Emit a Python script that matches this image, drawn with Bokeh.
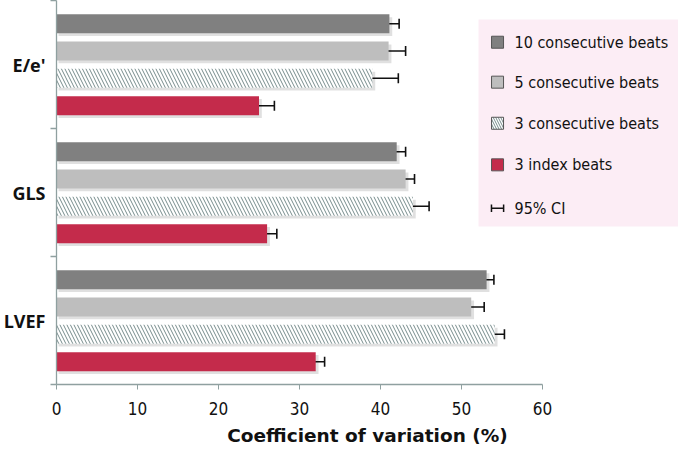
from bokeh.plotting import figure
from bokeh.models import Range1d, FixedTicker, ColumnDataSource, Whisker
from bokeh.core.properties import value
from bokeh.embed import file_html
from bokeh.resources import INLINE

# ---- data ----
categories = ["LVEF", "GLS", "E/e'"]
series = ["10 consecutive beats", "5 consecutive beats", "3 consecutive beats", "3 index beats"]
cv_10 = [53.1, 42.0, 41.1]
cv_5 = [51.2, 43.1, 41.0]
cv_3 = [54.1, 44.0, 39.0]
cv_idx = [32.0, 26.0, 25.0]
lo_10 = [52.5, 41.2, 40.1]
hi_10 = [54.0, 43.1, 42.3]
lo_5 = [50.0, 42.0, 40.1]
hi_5 = [52.8, 44.2, 43.1]
lo_3 = [51.0, 42.0, 37.0]
hi_3 = [55.3, 46.0, 42.2]
lo_idx = [30.9, 25.0, 24.0]
hi_idx = [33.1, 27.2, 26.9]
x_ticks = [0, 10, 20, 30, 40, 50, 60]
x_title = "Coefficient of variation (%)"

FONT = "DejaVu Sans Condensed"
vals = [cv_10, cv_5, cv_3, cv_idx]
los = [lo_10, lo_5, lo_3, lo_idx]
his = [hi_10, hi_5, hi_3, hi_idx]
offsets = [0.318, 0.105, -0.108, -0.322]
fills = ["#808080", "#bebebe", "white", "#c42b4b"]
bar_h = 0.148
HATCH = "#768c8c"

p = figure(frame_width=622, frame_height=384, output_backend="svg", toolbar_location=None,
           x_range=Range1d(0, 76.79), y_range=Range1d(0, 3.0),
           min_border_left=56, min_border_right=0, min_border_top=0, min_border_bottom=0)
p.outline_line_color = None
p.grid.visible = False
p.background_fill_color = "white"

centers = [i + 0.5 for i in range(len(categories))]

# shadows
for k in range(4):
    ys = [c + offsets[k] - 0.022 for c in centers]
    p.hbar(y=ys, left=0.25, right=[v + 0.35 for v in vals[k]], height=bar_h,
           fill_color="#000000", fill_alpha=0.12, line_color=None)

for k in range(4):
    ys = [c + offsets[k] for c in centers]
    src = ColumnDataSource(dict(y=ys, right=vals[k], lo=los[k], hi=his[k]))
    if k == 2:
        p.hbar(y="y", left=0, right="right", height=bar_h, source=src,
               fill_color="white", line_color=None,
               hatch_pattern="left_diagonal_line", hatch_color=HATCH,
               hatch_scale=7, hatch_weight=1.0)
    else:
        p.hbar(y="y", left=0, right="right", height=bar_h, source=src,
               fill_color=fills[k], line_color=None)
    w = Whisker(base="y", lower="lo", upper="hi", source=src, dimension="width",
                line_color="#111111", line_width=1.6)
    for h in (w.upper_head, w.lower_head):
        h.size = 10
        h.line_width = 1.6
        h.line_color = "#111111"
    p.add_layout(w)

# axes
ax = p.xaxis[0]
ax.ticker = FixedTicker(ticks=x_ticks, minor_ticks=[])
ax.bounds = (0, 60)
ax.axis_line_color = "#8fa0a0"
ax.axis_line_width = 1.3
ax.major_tick_line_color = "#8fa0a0"
ax.major_tick_out = 5
ax.major_tick_in = 0
ax.major_label_text_font = FONT
ax.major_label_text_font_size = "17px"
ax.major_label_text_color = "#111111"
ax.major_label_standoff = 12
ax.axis_label = x_title
ax.axis_label_text_font = "DejaVu Sans"
ax.axis_label_text_font_style = "bold"
ax.axis_label_text_font_size = "18.5px"
ax.axis_label_text_color = "#111111"
ax.axis_label_standoff = 7

ay = p.yaxis[0]
ay.ticker = FixedTicker(ticks=centers, minor_ticks=[0, 1, 2, 3])
ay.major_label_overrides = {c: n for c, n in zip(centers, categories)}
ay.axis_line_color = "#8fa0a0"
ay.axis_line_width = 1.3
ay.major_tick_out = 0
ay.major_tick_in = 0
ay.minor_tick_out = 6
ay.minor_tick_in = 0
ay.minor_tick_line_color = "#8fa0a0"
ay.minor_tick_line_width = 1.3
ay.major_label_text_font = "Open Sans"
ay.major_label_text_font_style = "bold"
ay.major_label_text_font_size = "18px"
ay.major_label_text_color = "#111111"
ay.major_label_standoff = 5

# legend (manual)
p.quad(left=[52.1], right=[76.79], bottom=[1.234], top=[2.852],
       fill_color="#fcedf5", line_color=None)
leg_y = [2.674, 2.362, 2.041, 1.716, 1.377]
leg_mx = 54.45
for k in range(4):
    if k == 2:
        p.scatter(x=[leg_mx], y=[leg_y[k]], marker="square", size=12,
                  fill_color="white", line_color="#555555", line_width=1,
                  hatch_pattern="left_diagonal_line", hatch_color=HATCH,
                  hatch_scale=5, hatch_weight=1.0)
    else:
        p.scatter(x=[leg_mx], y=[leg_y[k]], marker="square", size=12,
                  fill_color=fills[k], line_color="#555555", line_width=1)
p.segment(x0=[leg_mx - 0.75], x1=[leg_mx + 0.75], y0=[leg_y[4]], y1=[leg_y[4]],
          line_color="#111111", line_width=1.5)
p.segment(x0=[leg_mx - 0.75, leg_mx + 0.75], x1=[leg_mx - 0.75, leg_mx + 0.75],
          y0=[leg_y[4] - 0.03] * 2, y1=[leg_y[4] + 0.03] * 2,
          line_color="#111111", line_width=1.5)
labels = series + ["95% CI"]
p.text(x=[56.55] * 5, y=leg_y, text=labels, text_font=value(FONT),
       text_font_size="16px", text_color="#111111",
       text_baseline="middle", text_align="left")

open("out.html", "w").write(file_html(p, INLINE))
